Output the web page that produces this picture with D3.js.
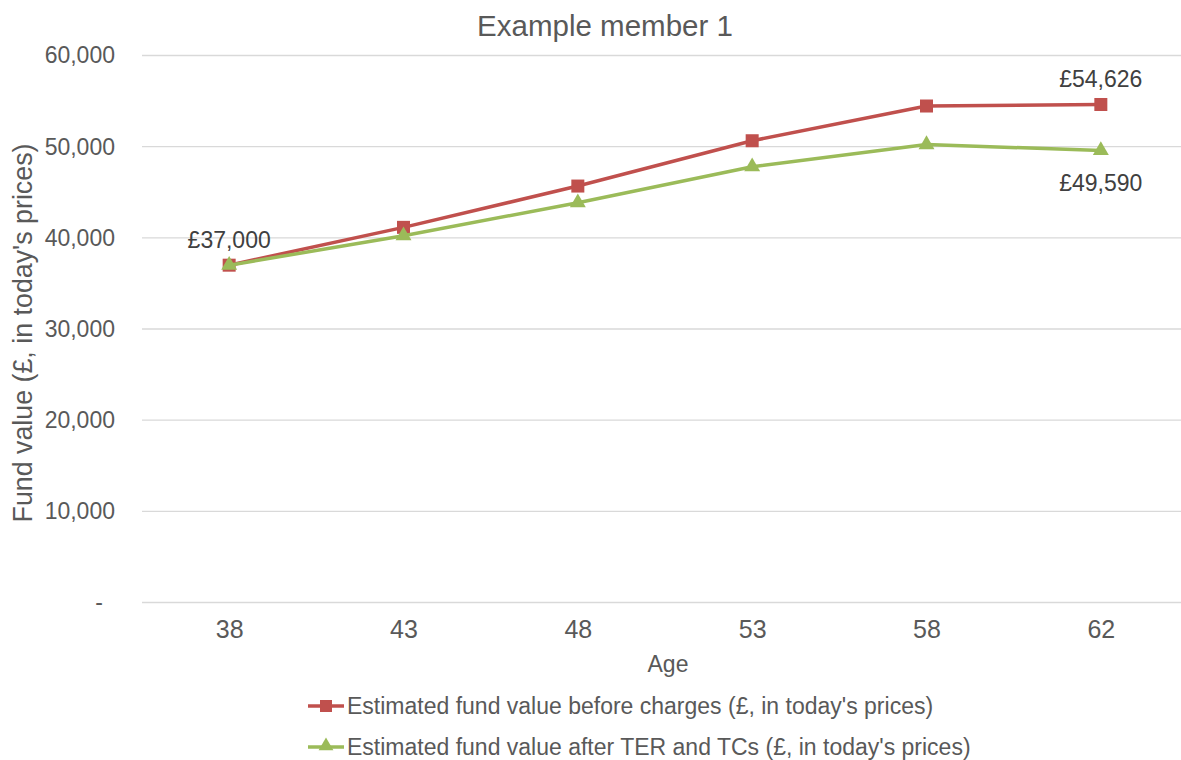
<!DOCTYPE html>
<html>
<head>
<meta charset="utf-8">
<script src="https://cdn.jsdelivr.net/npm/d3@7"></script>
<style>
  html, body { margin: 0; padding: 0; background: #fff; overflow: hidden; }
  svg { display: block; font-family: "Liberation Sans", Arial, sans-serif; }
</style>
</head>
<body>
<svg id="chart" width="1181" height="760"></svg>
<script>
// ---- data ----
const ages = ["38", "43", "48", "53", "58", "62"];
const beforeCharges = [37000, 41150, 45680, 50650, 54460, 54626];
const afterCharges = [37000, 40230, 43850, 47800, 50230, 49590];
const yTickValues = [0, 10000, 20000, 30000, 40000, 50000, 60000];
const yTickLabels = ["-", "10,000", "20,000", "30,000", "40,000", "50,000", "60,000"];
const seriesNames = [
  "Estimated fund value before charges (£, in today's prices)",
  "Estimated fund value after TER and TCs (£, in today's prices)"
];
const chartTitle = "Example member 1";
const xTitle = "Age";
const yTitle = "Fund  value (£, in today's prices)";
// labelled points: [seriesIndex, pointIndex, text, position]
const dataLabels = [
  [0, 0, "£37,000", "above"],
  [0, 5, "£54,626", "above"],
  [1, 5, "£49,590", "below"]
];

// ---- layout ----
const svg = d3.select("#chart");
const plot = { left: 142, right: 1188, top: 55.5, bottom: 602.5 };
const colors = ["#C0504D", "#9BBB59"];
const textColor = "#595959";

const x = d3.scalePoint().domain(ages).range([plot.left, plot.right]).padding(0.5);
const y = d3.scaleLinear().domain([0, 60000]).range([plot.bottom, plot.top]);

// gridlines
svg.append("g").selectAll("line").data(yTickValues).join("line")
  .attr("x1", plot.left).attr("x2", plot.right)
  .attr("y1", d => y(d)).attr("y2", d => y(d))
  .attr("stroke", "#D9D9D9").attr("stroke-width", 1.3);

// y axis labels
const yAxis = svg.append("g").attr("transform", `translate(${plot.left},0)`)
  .call(d3.axisLeft(y).tickValues(yTickValues)
    .tickFormat((d, i) => yTickLabels[i]).tickSize(0).tickPadding(27));
yAxis.select(".domain").remove();
yAxis.selectAll("text").attr("font-size", 23).attr("fill", textColor)
  .attr("font-family", '"Liberation Sans", Arial, sans-serif')
  .attr("dx", d => d === 0 ? -12 : 0);

// x axis labels
const xAxis = svg.append("g").attr("transform", `translate(0,${plot.bottom})`)
  .call(d3.axisBottom(x).tickSize(0).tickPadding(18));
xAxis.select(".domain").remove();
xAxis.selectAll("text").attr("font-size", 25).attr("fill", textColor)
  .attr("font-family", '"Liberation Sans", Arial, sans-serif');

// titles
svg.append("text").attr("x", 605).attr("y", 36).attr("text-anchor", "middle")
  .attr("font-size", 29.5).attr("fill", textColor).text(chartTitle);
svg.append("text").attr("x", 668).attr("y", 672).attr("text-anchor", "middle")
  .attr("font-size", 23).attr("fill", textColor).text(xTitle);
svg.append("text").attr("transform", "translate(32,333) rotate(-90)")
  .attr("text-anchor", "middle").attr("font-size", 26.8).attr("fill", textColor).text(yTitle);

// series
const series = [beforeCharges, afterCharges];
const line = d3.line().x((d, i) => x(ages[i])).y(d => y(d));
const triangle = d3.symbol().type(d3.symbolTriangle).size(110);

series.forEach((vals, s) => {
  svg.append("path").datum(vals).attr("d", line)
    .attr("fill", "none").attr("stroke", colors[s]).attr("stroke-width", 3.5)
    .attr("stroke-linejoin", "round");
  const g = svg.append("g");
  if (s === 0) {
    g.selectAll("rect").data(vals).join("rect")
      .attr("x", (d, i) => x(ages[i]) - 6.5).attr("y", d => y(d) - 6.5)
      .attr("width", 13).attr("height", 13).attr("fill", colors[s]);
  } else {
    g.selectAll("path").data(vals).join("path")
      .attr("d", triangle)
      .attr("transform", (d, i) => `translate(${x(ages[i])},${y(d)})`)
      .attr("fill", colors[s]);
  }
});

// data labels
dataLabels.forEach(([s, i, txt, pos]) => {
  const px = x(ages[i]), py = y(series[s][i]);
  svg.append("text").attr("x", px).attr("y", pos === "above" ? py - 17 : py + 41)
    .attr("text-anchor", "middle").attr("font-size", 23).attr("fill", "#404040").text(txt);
});

// legend
const legendRows = [706, 747];
seriesNames.forEach((name, s) => {
  const ly = legendRows[s];
  const g = svg.append("g");
  g.append("line").attr("x1", 308).attr("x2", 344).attr("y1", ly).attr("y2", ly)
    .attr("stroke", colors[s]).attr("stroke-width", 3.5);
  if (s === 0) {
    g.append("rect").attr("x", 320).attr("y", ly - 6).attr("width", 12).attr("height", 12)
      .attr("fill", colors[s]);
  } else {
    g.append("path").attr("d", d3.symbol().type(d3.symbolTriangle).size(95)())
      .attr("transform", `translate(326,${ly - 1})`).attr("fill", colors[s]);
  }
  g.append("text").attr("x", 347).attr("y", ly + 8).attr("font-size", 23)
    .attr("fill", textColor).text(name);
});
</script>
</body>
</html>
